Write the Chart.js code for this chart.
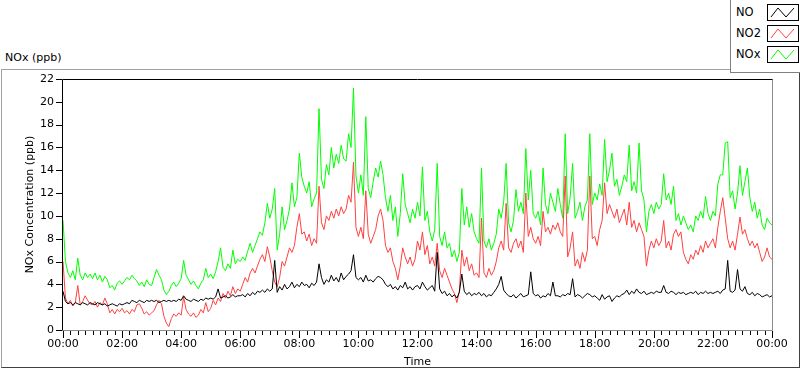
<!DOCTYPE html>
<html>
<head>
<meta charset="utf-8">
<script src="https://cdn.jsdelivr.net/npm/chart.js@4.4.0/dist/chart.umd.min.js"></script>
<style>
  body { margin: 0; background: #fff; font-family: "DejaVu Sans", sans-serif; color: #000; }
  #wrap { position: relative; width: 800px; height: 369px; overflow: hidden; }
  #frame { position: absolute; left: 1px; top: 69px; width: 797px; height: 297px;
           border-top: 1px solid #a0a0a0; border-left: 1px solid #a0a0a0;
           border-right: 1px solid #404040; border-bottom: 1px solid #404040; }
  #title { position: absolute; left: 5px; top: 51px; font-size: 11px; line-height: 14px; }
  canvas { position: absolute; left: 0; top: 0; }
  #legend { position: absolute; left: 730px; top: 0; width: 70px; height: 72px; background: #fff;
            border-left: 1px solid #808080; border-bottom: 1px solid #808080; }
  .row { position: absolute; left: 5px; width: 64px; height: 17px; font-size: 11.5px; line-height: 17px; }
  .row svg { position: absolute; left: 31px; top: 0; }
</style>
</head>
<body>
<div id="wrap">
  <div id="frame"></div>
  <div id="title">NOx (ppb)</div>
  <canvas id="myChart" width="800" height="369"></canvas>
  <div id="legend"></div>
</div>
<script>
// readings every 5 minutes, 00:00 -> 24:00 (one row per hour)
const stepMinutes = 5;

const noValues = [
  3.4,2.5,2.3,2.4,2.2,2.4,2.3,2.2,2.4,2.3,2.2,2.4,
  2.3,2.2,2.4,2.3,2.2,2.3,2.1,2.2,2.3,2.2,2.1,2.3,
  2.2,2.3,2.4,2.3,2.6,2.5,2.4,2.6,2.5,2.4,2.6,2.5,
  2.6,2.5,2.6,2.4,2.5,2.6,2.5,2.6,2.5,2.6,2.5,2.7,
  2.6,3.0,2.7,2.6,2.5,2.7,2.6,2.5,2.7,2.6,2.8,2.7,
  2.8,2.7,2.9,3.6,2.8,2.9,3.0,2.8,2.9,3.1,2.9,3.0,
  3.0,3.1,2.9,3.2,3.0,3.3,3.1,3.4,3.3,3.5,3.3,3.6,
  3.4,3.6,6.1,3.3,3.8,3.5,4.0,3.6,3.8,4.2,3.7,4.0,
  3.8,4.2,3.9,4.0,3.7,4.1,3.9,4.2,5.8,4.6,4.0,4.4,
  4.2,4.8,4.3,4.6,4.2,5.0,4.4,4.7,4.9,5.2,6.6,4.6,
  4.4,4.6,4.2,4.8,4.3,4.4,4.2,4.5,4.7,4.6,4.4,4.0,
  3.8,4.0,3.6,3.8,3.5,3.9,3.7,4.2,3.6,3.8,3.5,3.8,
  3.9,3.6,4.2,3.8,3.5,3.7,3.9,3.4,6.8,3.6,3.2,3.4,
  3.0,3.2,2.9,3.1,2.8,3.3,4.9,3.4,3.1,3.3,3.0,3.2,
  3.1,3.3,3.0,3.2,2.9,3.1,3.0,3.3,3.6,4.0,4.7,3.5,
  3.2,3.0,2.9,3.1,2.8,3.0,3.2,2.9,3.0,3.1,5.1,3.2,
  3.0,3.1,2.8,3.0,2.9,3.2,3.0,4.2,3.0,3.0,2.9,3.1,
  3.0,3.2,3.1,4.5,2.9,3.1,3.0,2.8,3.0,3.2,3.1,2.9,
  3.0,2.8,2.6,3.1,2.7,2.9,3.0,2.5,2.8,3.0,2.9,3.1,
  3.2,3.5,3.1,3.4,3.2,3.6,3.3,3.2,3.4,3.1,3.2,3.3,
  3.2,3.4,3.3,3.3,3.9,3.3,3.2,3.4,3.3,3.1,3.3,3.2,
  3.3,3.1,3.2,3.3,3.2,3.4,3.1,3.3,3.2,3.4,3.2,3.3,
  3.2,3.3,3.4,3.2,3.5,3.6,6.1,3.4,3.3,3.5,5.3,3.6,
  3.4,3.8,3.2,3.1,3.3,3.0,3.2,3.1,2.9,3.0,3.1,2.9,
  3.0
];

const no2Values = [
  6.0,2.8,2.3,2.6,2.1,2.4,3.9,2.2,2.5,3.0,2.6,2.3,
  2.2,2.5,2.0,2.4,2.2,2.8,2.3,1.5,1.8,1.4,1.8,1.6,
  1.9,1.5,1.7,1.4,1.8,1.6,2.2,2.3,1.9,1.4,1.6,1.3,
  1.5,1.7,2.2,2.6,2.3,1.2,0.6,0.3,1.0,1.4,1.2,1.5,
  1.3,2.9,1.8,1.4,1.2,1.5,1.1,1.3,1.8,1.5,2.4,1.6,
  1.9,2.6,2.2,2.8,2.5,3.2,2.8,3.4,3.0,3.8,3.2,3.6,
  3.4,4.0,4.6,4.2,5.0,5.4,5.0,5.6,6.2,6.6,6.0,7.3,
  6.4,5.2,4.2,3.8,4.6,6.0,5.6,6.4,7.2,6.8,7.4,9.0,
  10.2,8.4,8.6,7.8,8.4,7.4,8.0,7.6,12.6,9.4,8.8,10.0,
  9.6,10.4,9.8,10.6,10.0,10.8,10.2,10.6,11.8,11.2,14.7,9.0,
  8.2,9.0,8.0,12.2,8.4,7.6,8.2,8.8,10.0,10.6,9.6,7.4,
  6.8,7.2,6.0,5.4,4.4,5.6,7.2,6.4,5.8,6.4,5.6,6.2,
  7.8,7.0,8.6,6.6,7.4,5.8,6.4,5.6,7.6,5.2,4.6,5.4,
  4.8,4.2,3.6,3.2,2.4,3.4,7.0,5.6,6.4,5.2,5.8,4.8,
  5.0,4.6,9.8,5.0,4.6,5.4,4.8,5.2,6.0,7.2,7.8,7.0,
  11.1,7.2,6.8,7.6,8.0,7.2,7.8,6.8,12.0,8.2,9.0,8.0,
  7.6,8.2,7.4,10.4,8.6,9.0,8.4,9.2,8.8,9.4,8.6,8.2,
  13.5,6.4,7.2,8.6,5.6,6.2,5.4,6.8,6.0,7.0,13.5,8.0,
  8.2,7.4,8.8,9.6,12.9,10.2,11.0,10.4,9.8,10.6,9.4,10.0,
  10.6,9.2,11.2,9.0,9.6,8.6,9.4,8.8,8.2,5.6,7.0,7.8,
  7.2,8.0,7.4,7.8,9.6,7.2,7.8,7.0,8.4,8.8,8.2,8.6,
  6.8,6.2,5.8,6.6,6.2,7.0,6.6,7.4,6.8,7.8,7.2,7.6,
  8.0,7.2,9.0,10.4,11.6,9.8,8.0,7.2,7.8,7.0,8.4,9.9,
  8.4,8.8,8.0,7.4,7.8,7.2,7.6,6.8,6.0,6.4,7.2,6.4,
  6.2
];

const noxValues = [
  9.6,6.0,5.0,4.6,5.2,4.4,6.3,4.8,4.4,5.0,4.6,4.9,
  4.5,5.0,4.4,4.8,4.2,4.7,4.4,3.7,3.9,3.5,4.1,4.3,
  4.0,4.3,4.6,4.4,4.8,4.5,4.3,3.9,4.2,3.8,4.4,4.0,
  3.9,4.6,5.3,4.8,4.4,3.5,3.1,3.4,3.9,4.2,3.8,4.1,
  4.5,6.1,4.8,4.4,4.0,4.3,3.9,3.6,4.1,4.4,5.4,4.6,
  4.9,4.5,5.1,6.0,7.2,5.5,5.2,5.8,5.4,7.0,5.8,6.2,
  6.0,6.4,6.1,6.9,7.6,6.8,7.4,8.0,8.6,8.3,9.4,11.1,
  9.8,10.6,12.4,7.0,8.4,10.8,8.8,9.6,10.6,12.9,10.8,11.6,
  15.5,13.4,12.6,12.0,13.0,10.8,11.5,12.0,19.4,13.2,12.4,14.5,
  13.6,16.0,14.2,15.4,14.6,16.2,15.0,14.8,17.2,16.0,21.2,13.5,
  12.0,13.6,11.8,18.7,12.4,11.6,13.0,14.2,13.4,14.8,13.6,11.6,
  10.4,11.8,9.6,10.8,8.2,10.2,13.7,11.0,10.2,9.4,10.6,9.8,
  11.2,10.0,14.3,9.6,10.4,8.6,7.8,8.8,14.6,8.2,7.4,8.6,
  7.2,7.6,6.4,7.0,6.0,6.8,12.4,9.2,10.8,9.0,10.2,8.6,
  8.0,7.6,14.2,7.8,7.2,8.0,7.0,7.6,8.4,10.6,9.8,11.2,
  14.6,9.4,8.6,9.6,12.3,10.4,11.2,10.2,15.9,11.4,14.0,10.2,
  9.8,10.4,9.2,14.2,11.0,10.2,12.0,11.2,10.4,12.4,11.0,9.8,
  17.2,10.2,11.6,14.6,9.8,10.4,11.2,9.6,10.8,11.4,17.2,11.0,
  12.0,11.4,12.8,11.8,16.7,13.0,14.0,15.5,12.6,13.2,11.8,12.6,
  13.6,13.0,16.2,12.2,13.0,12.0,16.4,12.2,11.4,8.6,10.4,11.0,
  10.2,11.2,10.6,11.0,13.7,11.4,12.0,11.0,12.6,9.6,10.2,9.2,
  10.0,9.4,8.8,9.2,8.6,10.0,9.6,10.4,9.8,11.7,10.2,9.6,
  10.4,10.0,12.8,13.6,13.6,16.4,16.5,11.6,12.2,10.6,12.0,14.4,
  11.8,13.0,14.2,11.6,10.4,11.2,9.8,10.6,9.2,8.8,9.8,9.4,
  9.2
];

const seriesNames = ['NO', 'NO2', 'NOx'];
const seriesColors = ['#000000', '#ff4040', '#00ff00'];
const yTicks = [0, 2, 4, 6, 8, 10, 12, 14, 16, 18, 20, 22];
const xTickLabels = ['00:00', '02:00', '04:00', '06:00', '08:00', '10:00', '12:00',
                     '14:00', '16:00', '18:00', '20:00', '22:00', '00:00'];

function points(values) {
  return values.map((v, i) => ({ x: i * stepMinutes, y: v }));
}

// tick marks + sunken plot border, drawn over the traces
const plotFrame = {
  id: 'plotFrame',
  afterDatasetsDraw(chart) {
    const { ctx, chartArea: a, scales: { x, y } } = chart;
    ctx.save();
    ctx.lineWidth = 1;
    ctx.strokeStyle = '#8c8c8c';
    ctx.beginPath();
    ctx.moveTo(a.left - 0.5, a.bottom + 0.5);
    ctx.lineTo(a.right + 0.5, a.bottom + 0.5);
    ctx.lineTo(a.right + 0.5, a.top + 0.5);
    ctx.stroke();
    ctx.strokeStyle = '#000';
    ctx.beginPath();
    ctx.moveTo(a.left - 0.5, a.bottom + 0.5);
    ctx.lineTo(a.left - 0.5, a.top + 0.5);
    ctx.lineTo(a.right + 0.5, a.top + 0.5);
    y.ticks.forEach(t => {
      const py = Math.round(y.getPixelForValue(t.value)) + 0.5;
      ctx.moveTo(a.left - 7, py);
      ctx.lineTo(a.left - 1, py);
    });
    x.ticks.forEach(t => {
      const px = Math.round(x.getPixelForValue(t.value)) + 0.5;
      const len = t.value % 120 === 0 ? 7 : 4;
      ctx.moveTo(px, a.bottom + 1);
      ctx.lineTo(px, a.bottom + 1 + len);
    });
    ctx.stroke();
    ctx.restore();
  }
};

const font = { family: '"DejaVu Sans", sans-serif', size: 11 };

let ctx = document.getElementById('myChart').getContext('2d');

let myChart = new Chart(ctx, {
  type: 'line',
  data: {
    datasets: [noValues, no2Values, noxValues].map((vals, i) => ({
      label: seriesNames[i],
      data: points(vals),
      borderColor: seriesColors[i],
      borderWidth: 1,
      pointRadius: 0,
      tension: 0,
      fill: false
    }))
  },
  options: {
    responsive: false,
    animation: false,
    events: [],
    layout: { padding: { left: 0, top: 79, right: 28, bottom: 0 } },
    plugins: { legend: { display: false }, tooltip: { enabled: false } },
    scales: {
      x: {
        type: 'linear',
        min: 0,
        max: 1440,
        afterBuildTicks: (scale) => {
          const ticks = [];
          for (let m = 0; m <= 1440; m += 15) ticks.push({ value: m });
          scale.ticks = ticks;
        },
        afterFit: (scale) => { scale.height = 39; },
        grid: { display: false, drawTicks: false },
        border: { display: false },
        ticks: {
          autoSkip: false,
          maxRotation: 0,
          padding: 8,
          color: '#000',
          font: font,
          callback: (value) => value % 120 === 0 ? xTickLabels[value / 120] : ''
        },
        title: { display: true, text: 'Time', color: '#000', font: font, padding: { top: 0, bottom: 0 } }
      },
      y: {
        min: 0,
        max: 22,
        afterBuildTicks: (scale) => { scale.ticks = yTicks.map(v => ({ value: v })); },
        afterFit: (scale) => { scale.width = 63; },
        grid: { display: false, drawTicks: false },
        border: { display: false },
        ticks: { padding: 9, color: '#000', font: font },
        title: { display: true, text: 'NOx Concentration (ppb)', color: '#000', font: font, padding: { top: 24, bottom: 0 } }
      }
    }
  },
  plugins: [plotFrame]
});

// legend box, top right
const legend = document.getElementById('legend');
seriesNames.forEach((name, i) => {
  const row = document.createElement('div');
  row.className = 'row';
  row.style.top = (4 + i * 21) + 'px';
  row.innerHTML = name +
    '<svg width="32" height="17"><rect x="0.5" y="0.5" width="31" height="16" fill="#fff" stroke="#000"/>' +
    '<polyline points="4,13 11,4 19,13 27,4" fill="none" stroke="' + seriesColors[i] + '" stroke-width="1"/></svg>';
  legend.appendChild(row);
});
</script>
</body>
</html>
